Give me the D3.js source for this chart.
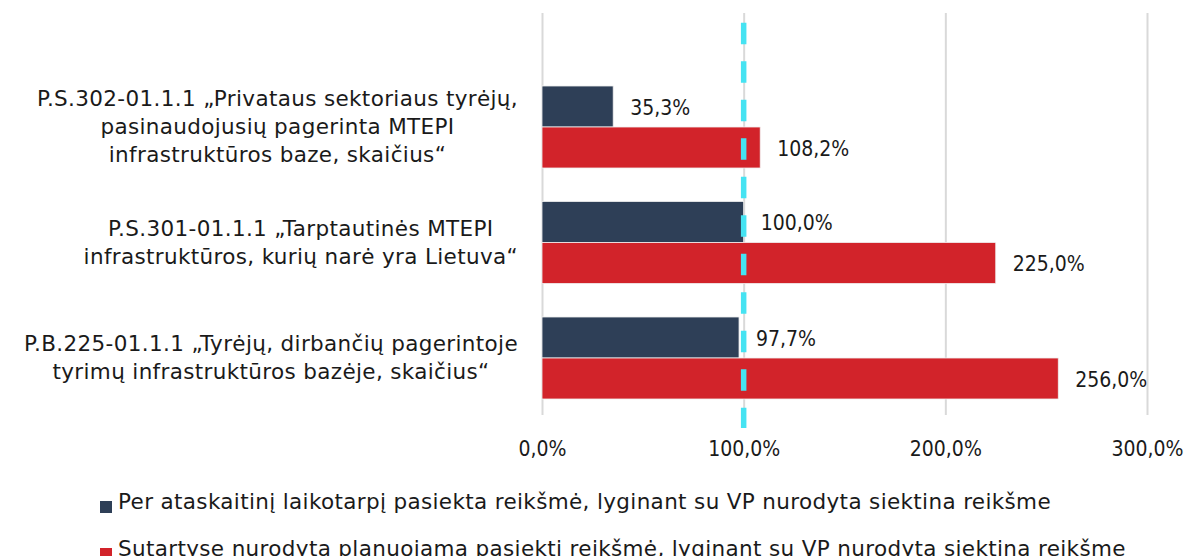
<!DOCTYPE html>
<html>
<head>
<meta charset="utf-8">
<script src="https://cdn.jsdelivr.net/npm/d3@7"></script>
<style>
    body { margin: 0; background: #fff; }
    svg text {
        font-family: "DejaVu Sans", sans-serif;
        font-size: 21.5px;
        letter-spacing: 0.35px;
        fill: #1a1a1a;
    }
    svg text.num {
        font-family: "DejaVu Sans Condensed", "DejaVu Sans", sans-serif;
        font-stretch: condensed;
        font-size: 21px;
        letter-spacing: 0;
    }
</style>
</head>
<body>
<div id="container"></div>
<script>
// kategorijos (eilutėmis, kaip paveiksle)
const categories = [
    ['P.S.302-01.1.1 „Privataus sektoriaus tyrėjų,', 'pasinaudojusių pagerinta MTEPI', 'infrastruktūros baze, skaičius“'],
    ['P.S.301-01.1.1 „Tarptautinės MTEPI', 'infrastruktūros, kurių narė yra Lietuva“'],
    ['P.B.225-01.1.1 „Tyrėjų, dirbančių pagerintoje', 'tyrimų infrastruktūros bazėje, skaičius“']
]
const achieved = [35.3, 100.0, 97.7]
const planned = [108.2, 225.0, 256.0]
const xTicks = [0, 100, 200, 300]
const seriesNames = [
    'Per ataskaitinį laikotarpį pasiekta reikšmė, lyginant su VP nurodyta siektina reikšme',
    'Sutartyse nurodyta planuojama pasiekti reikšmė, lyginant su VP nurodyta siektina reikšme'
]
const target = 100

const width = 1186
const height = 556
const colors = { achieved: '#2e3f57', planned: '#d2232a' }

const fmt = v => d3.format('.1f')(v).replace('.', ',') + '%'

const svg = d3.select('#container')
    .append('svg')
    .attr('width', width)
    .attr('height', height)

const xScale = d3.scaleLinear()
    .domain([0, 300])
    .range([542, 1147])

const yScale = d3.scaleBand()
    .domain(d3.range(categories.length))
    .range([69.25, 415.75])
    .paddingInner(0.29)
    .paddingOuter(0.145)

const subScale = d3.scaleBand()
    .domain(['achieved', 'planned'])
    .range([0, yScale.bandwidth()])

const gridTop = 13
const gridBottom = 415

// ašis + tinklelis
const xAxis = d3.axisBottom(xScale)
    .tickValues(xTicks)
    .tickSize(-(gridBottom - gridTop))
    .tickFormat(fmt)

const axisG = svg.append('g')
    .attr('transform', `translate(0, ${gridBottom})`)
    .call(xAxis)
axisG.attr('font-family', null).attr('font-size', null)
axisG.select('.domain').remove()
axisG.selectAll('line').attr('stroke', '#d9d9d9').attr('stroke-width', 2)
axisG.selectAll('text')
    .attr('class', 'num')
    .attr('y', 34)
    .attr('dy', '0.35em')
    .attr('fill', '#1a1a1a')

const rows = categories.map((c, i) => ({ i, achieved: achieved[i], planned: planned[i] }))

const groups = svg.selectAll('.grp').data(rows)
    .join('g')
    .attr('class', 'grp')
    .attr('transform', d => `translate(0, ${yScale(d.i)})`)

;['achieved', 'planned'].forEach(key => {
    groups.append('rect')
        .attr('x', xScale(0))
        .attr('y', subScale(key))
        .attr('width', d => xScale(d[key]) - xScale(0))
        .attr('height', subScale.bandwidth())
        .attr('fill', colors[key])
        .attr('stroke', '#f0f0f0')
        .attr('stroke-width', 0.8)

    groups.append('text')
        .attr('class', 'num')
        .attr('x', d => xScale(d[key]) + 17)
        .attr('y', subScale(key) + subScale.bandwidth() / 2 + 1)
        .attr('dy', '0.35em')
        .text(d => fmt(d[key]))
})

// tikslo linija 100 %
svg.append('line')
    .attr('x1', xScale(target))
    .attr('x2', xScale(target))
    .attr('y1', gridTop)
    .attr('y2', 428)
    .attr('stroke', '#45e3f2')
    .attr('stroke-width', 5.5)
    .attr('stroke-dasharray', '21.5 17')
    .attr('stroke-dashoffset', 28.8)

// kategorijų pavadinimai
const labelRight = 518
const lineH = 28
categories.forEach((lines, i) => {
    const cy = yScale(i) + yScale.bandwidth() / 2
    const g = svg.append('g')
    const texts = lines.map((ln, j) => g.append('text')
        .attr('y', cy + 7 + (j - (lines.length - 1) / 2) * lineH)
        .attr('text-anchor', 'middle')
        .text(ln))
    const maxW = d3.max(texts, t => t.node().getComputedTextLength())
    texts.forEach(t => t.attr('x', labelRight - maxW / 2))
})

// legenda
const legend = svg.append('g')
seriesNames.forEach((name, i) => {
    const y = 507 + i * 47
    legend.append('rect')
        .attr('x', 100)
        .attr('y', y - 6)
        .attr('width', 12)
        .attr('height', 12)
        .attr('fill', i === 0 ? colors.achieved : colors.planned)
    legend.append('text')
        .attr('x', 118)
        .attr('y', y + 2)
        .text(name)
})
</script>
</body>
</html>
